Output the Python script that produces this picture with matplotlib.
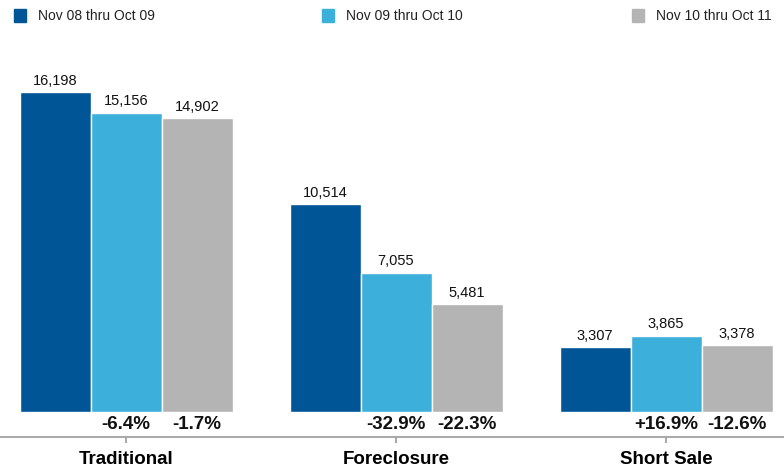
import matplotlib.pyplot as plt
import numpy as np

plt.rcParams['font.family'] = ['Liberation Sans', 'DejaVu Sans']

categories = ['Traditional', 'Foreclosure', 'Short Sale']
periods = ['Nov 08 thru Oct 09', 'Nov 09 thru Oct 10', 'Nov 10 thru Oct 11']
sales_0809 = [16198, 10514, 3307]
sales_0910 = [15156, 7055, 3865]
sales_1011 = [14902, 5481, 3378]
change_0910 = ['-6.4%', '-32.9%', '+16.9%']
change_1011 = ['-1.7%', '-22.3%', '-12.6%']

colors = ['#005596', '#3cb0da', '#b4b4b4']
series = [sales_0809, sales_0910, sales_1011]

fig = plt.figure(figsize=(7.84, 4.69), dpi=100)
ax = fig.add_axes([0, 32 / 469, 1, 387 / 469])

x = np.arange(len(categories))
w = 0.263
offsets = [-w, 0, w]

for vals, off, c in zip(series, offsets, colors):
    bars = ax.bar(x + off, vals, width=w, color=c, edgecolor='white', linewidth=1)
    for b, v in zip(bars, vals):
        ax.annotate(f'{v:,}', (b.get_x() + b.get_width() / 2, v),
                    xytext=(0, 3), textcoords='offset points',
                    ha='center', va='bottom', fontsize=10.5, color='#111111')

# year-over-year change under the two later bars
for i in range(len(categories)):
    ax.text(x[i], -630, change_0910[i], ha='center', va='center',
            fontsize=13.5, fontweight='bold', color='#111111')
    ax.text(x[i] + w, -630, change_1011[i], ha='center', va='center',
            fontsize=13.5, fontweight='bold', color='#111111')

ax.set_xlim(-0.467, 2.437)
ax.set_ylim(-1266, 18329)
ax.set_xticks(x)
ax.set_xticklabels(categories, fontsize=13.5, fontweight='bold')
ax.tick_params(axis='x', length=4, width=1.5, color='#aaaaaa', pad=6)
ax.set_yticks([])
for s in ['top', 'left', 'right']:
    ax.spines[s].set_visible(False)
ax.spines['bottom'].set_color('#aaaaaa')
ax.spines['bottom'].set_linewidth(1.5)

# legend row across the top
legend_x = [14, 322, 632]
for lx, label, c in zip(legend_x, periods, colors):
    fig.patches.append(plt.Rectangle((lx / 784, 1 - 22 / 469), 12 / 784, 13 / 469,
                                     transform=fig.transFigure, color=c))
    fig.text((lx + 24) / 784, 1 - 16 / 469, label, ha='left', va='center',
             fontsize=10, color='#222222')

fig.savefig('out.png', dpi=100)
